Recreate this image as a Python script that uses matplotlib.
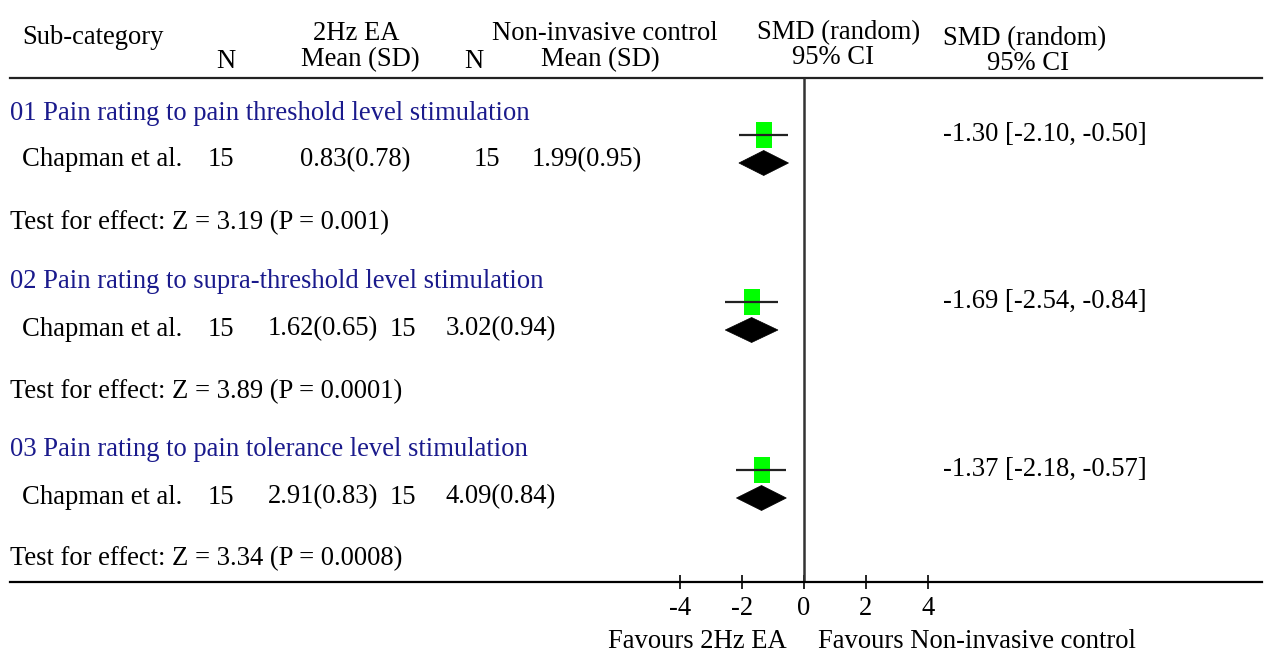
import matplotlib
matplotlib.use('Agg')
import matplotlib.pyplot as plt
import matplotlib.patches as mpatches

plt.rcParams['font.family'] = ['Liberation Serif', 'DejaVu Serif']
plt.rcParams['axes.unicode_minus'] = False

# ---- 数据 ----
GROUPS = ['01 Pain rating to pain threshold level stimulation',
          '02 Pain rating to supra-threshold level stimulation',
          '03 Pain rating to pain tolerance level stimulation']
STUDY = 'Chapman et al.'
N_EA = [15, 15, 15]
MEAN_EA = [0.83, 1.62, 2.91]
SD_EA = [0.78, 0.65, 0.83]
N_CTL = [15, 15, 15]
MEAN_CTL = [1.99, 3.02, 4.09]
SD_CTL = [0.95, 0.94, 0.84]
SMD = [-1.30, -1.69, -1.37]
CI_LO = [-2.10, -2.54, -2.18]
CI_HI = [-0.50, -0.84, -0.57]
Z_VAL = [3.19, 3.89, 3.34]
P_VAL = ['0.001', '0.0001', '0.0008']
TICKS = [-4, -2, 0, 2, 4]

# ---- 版面 ----
W, H = 1264, 654
ZERO_PX, PX_PER_UNIT = 804, 31
Y_GROUP = [110, 279, 446]
Y_STUDY = [157, 326, 494]
Y_TEST = [220, 389, 556]
Y_CI = [135, 302, 470]
Y_DIAMOND = [163, 330, 498]
Y_HEAD, Y_AXIS = 78, 582
# 每行各列的起始位置（第一组与后两组不同）
COLS = [(208, 300, 474, 532), (208, 268, 390, 446), (208, 268, 390, 446)]
FS = 19.2
NAVY = '#1a1a8c'

fig = plt.figure(figsize=(W / 100, H / 100), dpi=100)
ax = fig.add_axes([0, 0, 1, 1])
ax.set_xlim(-ZERO_PX / PX_PER_UNIT, (W - ZERO_PX) / PX_PER_UNIT)
ax.set_ylim(H, 0)
col = ax.get_yaxis_transform()


def t(x, y, s, **kw):
    kw.setdefault('fontsize', FS)
    kw.setdefault('va', 'center')
    # 文字整体略向下偏移，使字身居中于行位置
    ax.text(x / W, y + 3, s, transform=col, **kw)


# 表头
t(22, 35, 'Sub-category')
t(226, 58, 'N', ha='center')
t(356, 30, '2Hz EA', ha='center')
t(360, 57, 'Mean (SD)', ha='center')
t(474, 58, 'N', ha='center')
t(605, 30, 'Non-invasive control', ha='center')
t(600, 57, 'Mean (SD)', ha='center')
t(839, 30, 'SMD (random)', ha='center')
t(833, 55, '95% CI', ha='center')
t(1025, 36, 'SMD (random)', ha='center')
t(1028, 60, '95% CI', ha='center')

ax.axhline(Y_HEAD, xmin=10 / W, xmax=1262 / W, color='#222222', lw=1.6)
ax.vlines(0, Y_HEAD, Y_AXIS, color='#333333', lw=1.8)

for i in range(len(GROUPS)):
    t(10, Y_GROUP[i], GROUPS[i], color=NAVY)
    t(22, Y_STUDY[i], STUDY)
    c = COLS[i]
    t(c[0], Y_STUDY[i], f'{N_EA[i]}')
    t(c[1], Y_STUDY[i], f'{MEAN_EA[i]:.2f}({SD_EA[i]:.2f})')
    t(c[2], Y_STUDY[i], f'{N_CTL[i]}')
    t(c[3], Y_STUDY[i], f'{MEAN_CTL[i]:.2f}({SD_CTL[i]:.2f})')
    t(10, Y_TEST[i], f'Test for effect: Z = {Z_VAL[i]:.2f} (P = {P_VAL[i]})')
    t(943, Y_CI[i] - 4,
      f'{SMD[i]:.2f} [{CI_LO[i]:.2f}, {CI_HI[i]:.2f}]')

    # 置信区间 + 方块
    ax.hlines(Y_CI[i], CI_LO[i], CI_HI[i], color='#222222', lw=1.6, zorder=3)
    hw = 8 / PX_PER_UNIT
    ax.add_patch(mpatches.Rectangle((SMD[i] - hw, Y_CI[i] - 13), 2 * hw, 26,
                                    facecolor='#00ff00', edgecolor='none',
                                    zorder=2))
    # 合并效应菱形
    yd = Y_DIAMOND[i]
    ax.add_patch(mpatches.Polygon([(CI_LO[i], yd), (SMD[i], yd - 12.5),
                                   (CI_HI[i], yd), (SMD[i], yd + 12.5)],
                                  closed=True, facecolor='black',
                                  edgecolor='black', lw=0.5, zorder=3))

# 底部坐标轴
for side in ('top', 'left', 'right'):
    ax.spines[side].set_visible(False)
ax.spines['bottom'].set_position(('data', Y_AXIS))
ax.spines['bottom'].set_bounds((10 - ZERO_PX) / PX_PER_UNIT,
                               (1262 - ZERO_PX) / PX_PER_UNIT)
ax.spines['bottom'].set_linewidth(1.6)
ax.set_xticks(TICKS)
ax.set_xticklabels([str(v) for v in TICKS])
ax.tick_params(axis='x', direction='inout', length=10, width=1.2, pad=5,
               labelsize=FS)
ax.set_yticks([])
ax.patch.set_visible(False)

t(697, 639, 'Favours 2Hz EA', ha='center')
t(818, 639, 'Favours Non-invasive control')

fig.savefig('out.png', dpi=100)
